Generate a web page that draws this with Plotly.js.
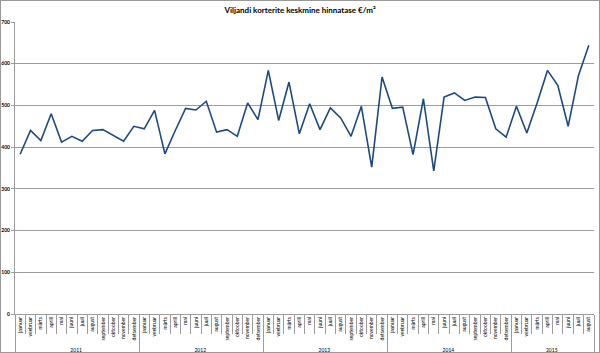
<!DOCTYPE html>
<html>
<head>
<meta charset="utf-8">
<script src="https://cdn.plot.ly/plotly-3.0.1.min.js"></script>
<style>
html,body{margin:0;padding:0;background:#fff;}
#wrap{width:598px;height:351px;border:1px solid #9a9a9a;}
#chart{width:598px;height:351px;}
</style>
</head>
<body>
<div id="wrap"><div id="chart"></div></div>
<script>
const years = ["2011","2012","2013","2014","2015"];
const months = ["jaanuar","veebruar","märts","aprill","mai","juuni","juuli","august","september","oktoober","november","detsember"];
const monthsPerYear = [12,12,12,12,8];
const prices = [
  383,440,416,480,412,426,414,440,442,428,414,450,
  444,488,384,440,493,489,510,436,442,426,506,466,
  584,464,556,432,504,442,494,470,426,498,352,568,
  493,496,382,516,343,520,530,512,520,519,444,424,
  498,434,506,584,548,450,572,644
];
const titleText = "Viljandi korterite keskmine hinnatase €/m²";

const xYear = [], xMonth = [];
years.forEach((y, i) => {
  for (let m = 0; m < monthsPerYear[i]; m++) { xYear.push(y); xMonth.push(months[m]); }
});

const trace = {
  type: "scatter",
  mode: "lines",
  x: [xYear, xMonth],
  y: prices,
  line: {color: "#1c4a7e", width: 1.6},
  hoverinfo: "skip"
};

const layout = {
  width: 598, height: 351,
  margin: {l: 14, r: 5, t: 21, b: 38},
  paper_bgcolor: "#fff", plot_bgcolor: "#fff",
  showlegend: false,
  title: {text: "<b>" + titleText + "</b>", x: 0.5, xanchor: "center", y: 0.975, yanchor: "middle",
          font: {family: "Lato, Open Sans, sans-serif", size: 8, color: "#000"}},
  yaxis: {
    range: [0, 700], dtick: 100, tick0: 0,
    showgrid: true, gridcolor: "#9c9c9c", gridwidth: 1,
    zeroline: false, showline: true, linecolor: "#9c9c9c", linewidth: 1,
    ticks: "outside", ticklen: 3, tickcolor: "#9c9c9c",
    tickfont: {family: "Lato, sans-serif", size: 5, color: "#000", weight: "bold"}
  },
  xaxis: {
    type: "multicategory",
    range: [-0.5, prices.length - 0.5],
    showline: true, linecolor: "#9c9c9c", linewidth: 1,
    showgrid: false, zeroline: false,
    ticks: "outside", tickson: "boundaries", ticklen: 19, tickcolor: "#9c9c9c",
    tickangle: -90,
    showdividers: true, dividercolor: "#9c9c9c", dividerwidth: 1,
    tickfont: {family: "Lato, sans-serif", size: 5, color: "#000"}
  }
};

Plotly.newPlot("chart", [trace], layout, {displayModeBar: false, staticPlot: true});
</script>
</body>
</html>
